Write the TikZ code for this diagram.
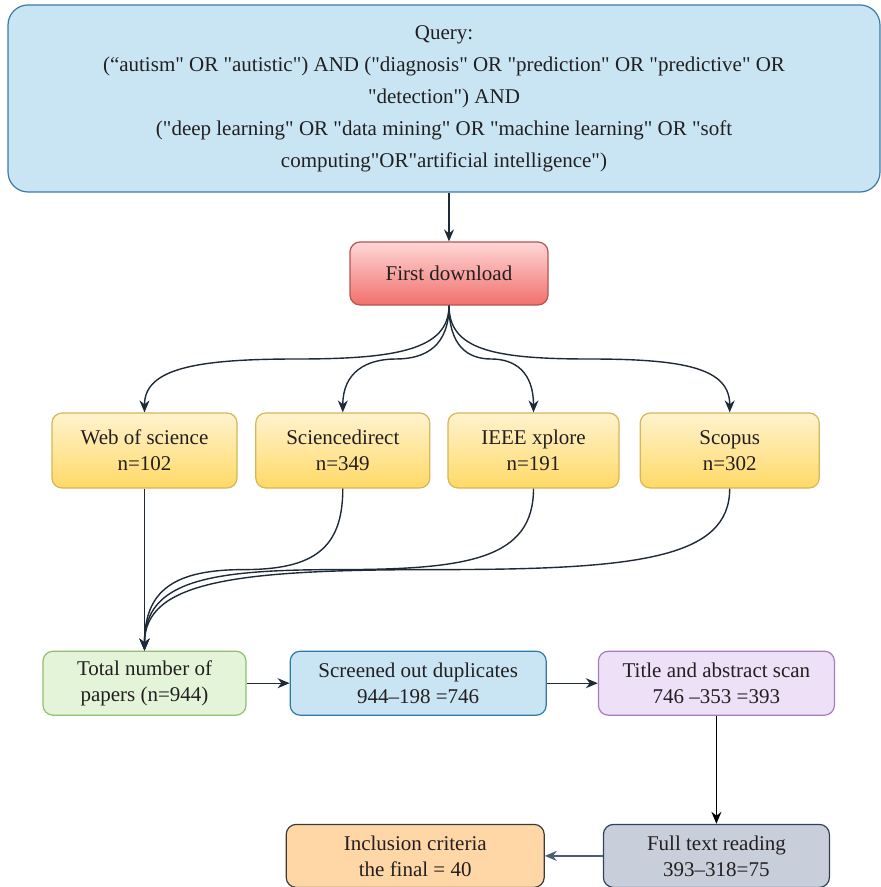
\documentclass[tikz,border=0pt]{standalone}
\usepackage{fontspec}
\setmainfont{Liberation Serif}[Ligatures=TeXOff]
\usetikzlibrary{positioning, arrows.meta, calc}

\definecolor{txt}{HTML}{231F20}
\definecolor{edge}{HTML}{1E2A38}
\definecolor{queryfill}{HTML}{C9E5F3}
\definecolor{querydraw}{HTML}{3A7BA5}
\definecolor{redtop}{HTML}{FFD7D7}
\definecolor{redbot}{HTML}{F0706C}
\definecolor{reddraw}{HTML}{B85450}
\definecolor{yeltop}{HTML}{FFF3CF}
\definecolor{yelbot}{HTML}{FFD966}
\definecolor{yeldraw}{HTML}{D6B656}
\definecolor{greenfill}{HTML}{E3F4D9}
\definecolor{greendraw}{HTML}{8FBF6F}
\definecolor{bluefill}{HTML}{C9E5F3}
\definecolor{bluedraw}{HTML}{2F79A8}
\definecolor{purplefill}{HTML}{EEE0F7}
\definecolor{purpledraw}{HTML}{A77BC0}
\definecolor{grayfill}{HTML}{C8CFDA}
\definecolor{graydraw}{HTML}{2E4259}
\definecolor{orangefill}{HTML}{FFD6A5}
\definecolor{orangedraw}{HTML}{3A3A3A}

\begin{document}
\begin{tikzpicture}[
    x=1pt, y=1pt,
    every node/.style={rectangle, draw, rounded corners=5pt, align=center, inner sep=0pt,
        line width=0.6pt, text=txt, font=\fontsize{10.5}{13}\selectfont},
    arrow/.style={-{Stealth[length=6pt,width=5pt]}, line width=0.7pt, draw=edge},
    source/.style={draw=yeldraw, top color=yeltop, bottom color=yelbot, minimum height=37.5pt},
    stagebox/.style={minimum height=32pt}
]
    \useasboundingbox (0,0) rectangle (440.5,-443.5);

    % Nodes
    \node (query) [fill=queryfill, draw=querydraw, rounded corners=10pt, minimum width=436pt,
        minimum height=93.5pt, font=\fontsize{10.5}{16}\selectfont] at (222,-49.25)
        {Query:\\
        (“autism" OR "autistic") AND ("diagnosis" OR "prediction" OR "predictive" OR\\
        "detection") AND\\
        ("deep learning" OR "data mining" OR "machine learning" OR "soft\\
        computing"OR"artificial intelligence")};
    \node (download) [draw=reddraw, top color=redtop, bottom color=redbot, minimum width=99pt,
        minimum height=31.5pt] at (224.5,-136.75) {First download};

    \node (wos) [source, minimum width=92.5pt] at (72.25,-225.25) {Web of science\\n=102};
    \node (sd) [source, minimum width=87pt, right=8.8pt of wos] {Sciencedirect\\n=349};
    \node (ieee) [source, minimum width=85.5pt, right=8.5pt of sd] {IEEE xplore\\n=191};
    \node (scopus) [source, minimum width=89.5pt, right=10pt of ieee] {Scopus\\n=302};

    \node (total) [stagebox, fill=greenfill, draw=greendraw, minimum width=101.5pt, below=81pt of wos]
        {Total number of\\papers (n=944)};
    \node (screened) [stagebox, fill=bluefill, draw=bluedraw, minimum width=128pt, right=21.5pt of total]
        {Screened out duplicates\\944–198 =746};
    \node (title) [stagebox, fill=purplefill, draw=purpledraw, minimum width=118pt, right=25.5pt of screened]
        {Title and abstract scan\\746 –353 =393};
    \node (full) [stagebox, fill=grayfill, draw=graydraw, minimum width=113pt, minimum height=31.5pt,
        below=54pt of title] {Full text reading\\393–318=75};
    \node (incl) [stagebox, fill=orangefill, draw=orangedraw, minimum width=129pt, minimum height=31.5pt,
        left=29pt of full] {Inclusion criteria\\the final = 40};

    % Arrows
    \draw[arrow] (query.south -| download) -- (download);

    \draw[arrow] (download.south) to[out=-90, in=0, out distance=22pt, in distance=50pt]
        ($(download.south)!.5!(wos.north)$) to[out=180, in=90, out distance=50pt, in distance=22pt] (wos.north);
    \draw[arrow] (download.south) to[out=-90, in=0, out distance=20pt, in distance=15pt]
        ($(download.south)!.5!(sd.north)$) to[out=180, in=90, out distance=15pt, in distance=20pt] (sd.north);
    \draw[arrow] (download.south) to[out=-90, in=180, out distance=20pt, in distance=12pt]
        ($(download.south)!.5!(ieee.north)$) to[out=0, in=90, out distance=12pt, in distance=20pt] (ieee.north);
    \draw[arrow] (download.south) to[out=-90, in=180, out distance=22pt, in distance=48pt]
        ($(download.south)!.5!(scopus.north)$) to[out=0, in=90, out distance=48pt, in distance=22pt] (scopus.north);

    \draw[arrow] (wos) -- (total);
    \draw[arrow] (sd.south) to[out=-90, in=0, out distance=30pt, in distance=35pt]
        ($(sd.south)!.5!(total.north)$) to[out=180, in=90, out distance=35pt, in distance=30pt] (total.north);
    \draw[arrow] (ieee.south) to[out=-90, in=0, out distance=35pt, in distance=65pt]
        ($(ieee.south)!.5!(total.north)$) to[out=180, in=90, out distance=65pt, in distance=35pt] (total.north);
    \draw[arrow] (scopus.south) to[out=-90, in=0, out distance=35pt, in distance=100pt]
        ($(scopus.south)!.5!(total.north)$) to[out=180, in=90, out distance=100pt, in distance=35pt] (total.north);

    \draw[arrow] (total) -- (screened);
    \draw[arrow] (screened) -- (title);
    \draw[arrow, draw=black] (title) -- (full);
    \draw[arrow, draw=graydraw!85] (full) -- (incl);
\end{tikzpicture}
\end{document}
